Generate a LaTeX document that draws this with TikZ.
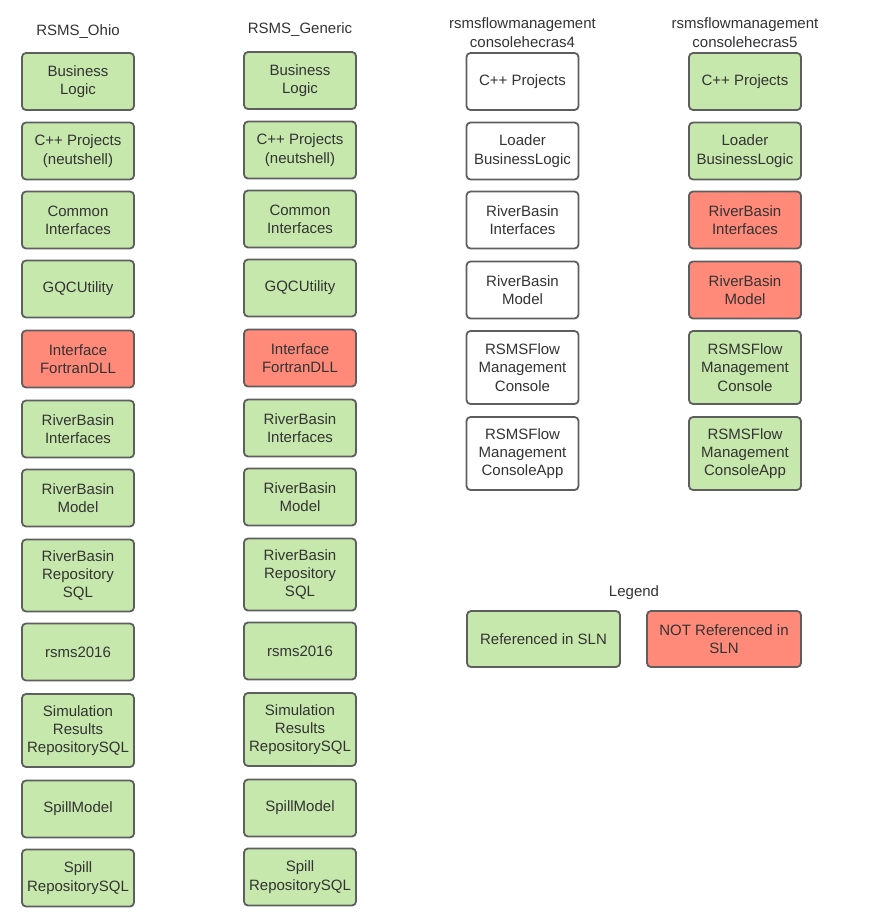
\documentclass[tikz,border=0pt]{standalone}
\usepackage{fontspec}
\setmainfont{Liberation Sans}
\definecolor{gfill}{HTML}{C7E8AC}
\definecolor{rfill}{HTML}{FF8A7A}
\definecolor{strk}{HTML}{5E5E5E}
\definecolor{txt}{HTML}{333333}
\begin{document}
\begin{tikzpicture}[x=1pt,y=-1pt,
  box/.style={draw=strk, line width=1.8pt, rounded corners=4pt, minimum width=112pt, minimum height=57pt, align=center, text=txt, font=\fontsize{15}{18.3}\selectfont, inner sep=1pt},
  tall/.style={box, minimum height=72pt},
  g/.style={fill=gfill}, r/.style={fill=rfill}, w/.style={fill=white},
  ttl/.style={text=txt, align=center, font=\fontsize{15}{18.5}\selectfont, inner sep=0pt}]
\useasboundingbox (0,0) rectangle (881,913);
% titles
\node[ttl] (t1) at (78,32) {RSMS\_Ohio};
\node[ttl] (t2) at (300,30) {RSMS\_Generic};
\node[ttl] (t3) at (522.5,32.5) {rsmsflowmanagement\\consolehecras4};
\node[ttl] (t4) at (745,32.5) {rsmsflowmanagement\\consolehecras5};
% column 1
\node[box,g] (a1) at (78,81.5) {Business\\Logic};
\node[box,g] (a2) at (78,151) {C++ Projects\\(neutshell)};
\node[box,g] (a3) at (78,220) {Common\\Interfaces};
\node[box,g] (a4) at (78,289) {GQCUtility};
\node[box,r] (a5) at (78,359) {Interface\\FortranDLL};
\node[box,g] (a6) at (78,429) {RiverBasin\\Interfaces};
\node[box,g] (a7) at (78,498) {RiverBasin\\Model};
\node[tall,g] (a8) at (78,575.5) {RiverBasin\\Repository\\SQL};
\node[box,g] (a9) at (78,652) {rsms2016};
\node[tall,g,minimum height=73pt] (a10) at (78,730.5) {Simulation\\Results\\RepositorySQL};
\node[box,g] (a11) at (78,809) {SpillModel};
\node[box,g] (a12) at (78,878) {Spill\\RepositorySQL};
% column 2
\node[box,g] (b1) at (300,80.5) {Business\\Logic};
\node[box,g] (b2) at (300,150) {C++ Projects\\(neutshell)};
\node[box,g] (b3) at (300,219) {Common\\Interfaces};
\node[box,g] (b4) at (300,288) {GQCUtility};
\node[box,r] (b5) at (300,358) {Interface\\FortranDLL};
\node[box,g] (b6) at (300,428) {RiverBasin\\Interfaces};
\node[box,g] (b7) at (300,497) {RiverBasin\\Model};
\node[tall,g] (b8) at (300,574.5) {RiverBasin\\Repository\\SQL};
\node[box,g] (b9) at (300,651) {rsms2016};
\node[tall,g,minimum height=73pt] (b10) at (300,729.5) {Simulation\\Results\\RepositorySQL};
\node[box,g] (b11) at (300,808) {SpillModel};
\node[box,g] (b12) at (300,877) {Spill\\RepositorySQL};
% column 3
\node[box,w] (c1) at (522.5,81.5) {C++ Projects};
\node[box,w] (c2) at (522.5,151) {Loader\\BusinessLogic};
\node[box,w] (c3) at (522.5,220) {RiverBasin\\Interfaces};
\node[box,w] (c4) at (522.5,290) {RiverBasin\\Model};
\node[tall,w,minimum height=73pt] (c5) at (522.5,367.5) {RSMSFlow\\Management\\Console};
\node[tall,w,minimum height=73pt] (c6) at (522.5,453.5) {RSMSFlow\\Management\\ConsoleApp};
% column 4
\node[box,g] (d1) at (745,81.5) {C++ Projects};
\node[box,g] (d2) at (745,151) {Loader\\BusinessLogic};
\node[box,r] (d3) at (745,220) {RiverBasin\\Interfaces};
\node[box,r] (d4) at (745,290) {RiverBasin\\Model};
\node[tall,g,minimum height=73pt] (d5) at (745,367.5) {RSMSFlow\\Management\\Console};
\node[tall,g,minimum height=73pt] (d6) at (745,453.5) {RSMSFlow\\Management\\ConsoleApp};
% legend
\node[ttl] (lg) at (634,593) {Legend};
\node[box,g,minimum width=153pt,minimum height=56pt] (l1) at (543.5,639) {Referenced in SLN};
\node[box,r,minimum width=154pt,minimum height=56pt] (l2) at (724,639) {NOT Referenced in\\SLN};
\end{tikzpicture}
\end{document}
